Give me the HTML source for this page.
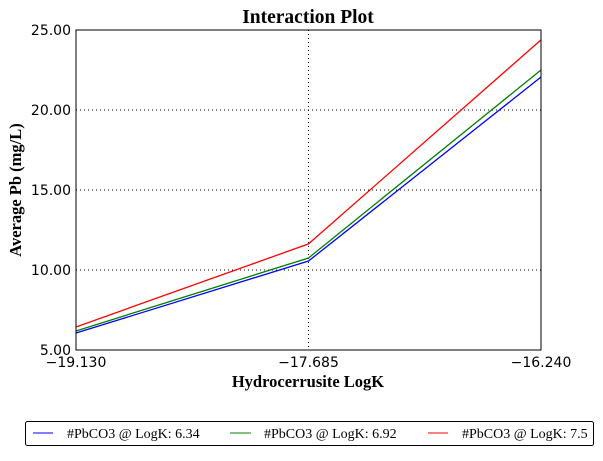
<!DOCTYPE html>
<html><head><meta charset="utf-8"><style>
body{margin:0;background:#fff;width:603px;height:456px;overflow:hidden}
svg text{font-family:"DejaVu Sans",sans-serif}
.serif{font-family:"Liberation Serif",serif}
</style></head><body>
<svg width="603" height="456">
<text x="308" y="23" text-anchor="middle" class="serif" font-size="19.5" font-weight="bold">Interaction Plot</text>
<g id="grid"></g>
<g id="series"></g>
<rect x="76" y="30" width="465" height="320" fill="none" stroke="#000" stroke-width="1"/>
<g id="ticks"></g>
<text x="308" y="387" text-anchor="middle" class="serif" font-size="16.5" font-weight="bold">Hydrocerrusite LogK</text>
<text transform="translate(21,190) rotate(-90)" text-anchor="middle" class="serif" font-size="16.5" font-weight="bold">Average Pb (mg/L)</text>
<g>
<rect x="25.5" y="421.5" width="568" height="24" rx="2" fill="#fff" stroke="#000" stroke-width="1"/>
<g><line x1="33" y1="433" x2="53" y2="433" stroke="#0000ff"/><text x="67" y="438" class="serif" font-size="14">#PbCO3 @ LogK: 6.34</text></g>
<g><line x1="230" y1="433" x2="251" y2="433" stroke="#008000"/><text x="264" y="438" class="serif" font-size="14">#PbCO3 @ LogK: 6.92</text></g>
<g><line x1="428" y1="433" x2="448" y2="433" stroke="#ff0000"/><text x="462" y="438" class="serif" font-size="14">#PbCO3 @ LogK: 7.5</text></g>
</g>
</svg>
<script>
const categories=[-19.13,-17.685,-16.24];
const xTickLabels=["\u221219.130","\u221217.685","\u221216.240"];
const yTicks=[5,10,15,20,25];
const yTickLabels=["5.00","10.00","15.00","20.00","25.00"];
const seriesBlue=[6.06,10.56,22.06];
const seriesGreen=[6.19,10.75,22.5];
const seriesRed=[6.44,11.63,24.38];
const NS="http://www.w3.org/2000/svg";
const X=v=>76+(v-(-19.13))/(2.89)*465;
const Y=v=>350-(v-5)/20*320;
function mk(t,a,p){const e=document.createElementNS(NS,t);for(const k in a)e.setAttribute(k,a[k]);p.appendChild(e);return e;}
const grid=document.getElementById('grid'),ticks=document.getElementById('ticks'),ser=document.getElementById('series');
categories.forEach((c,i)=>{const x=X(c);
 if(i>0&&i<categories.length-1){const g=mk('line',{x1:x,x2:x,y1:30,y2:350,stroke:'#000','stroke-dasharray':'1,3'},grid);
 
 }
 const t=mk('text',{x:x,y:367,'text-anchor':'middle','font-size':'14'},ticks);t.textContent=xTickLabels[i];
 
 
});
yTicks.forEach((v,i)=>{const y=Y(v);
 if(i>0&&i<yTicks.length-1){const g=mk('line',{x1:76,x2:541,y1:y,y2:y,stroke:'#000','stroke-dasharray':'1,3'},grid);
 
 }
 const t=mk('text',{x:71,y:y+5,'text-anchor':'end','font-size':'14'},ticks);t.textContent=yTickLabels[i];
 
 
});
[[seriesBlue,'#0000ff','line-6.34'],[seriesGreen,'#008000','line-6.92'],[seriesRed,'#ff0000','line-7.5']].forEach(([s,c,n])=>{
 const p=mk('polyline',{points:s.map((v,i)=>X(categories[i])+','+Y(v)).join(' '),fill:'none',stroke:c,'stroke-width':1.3},ser);
 
 
});
</script>
</body></html>
